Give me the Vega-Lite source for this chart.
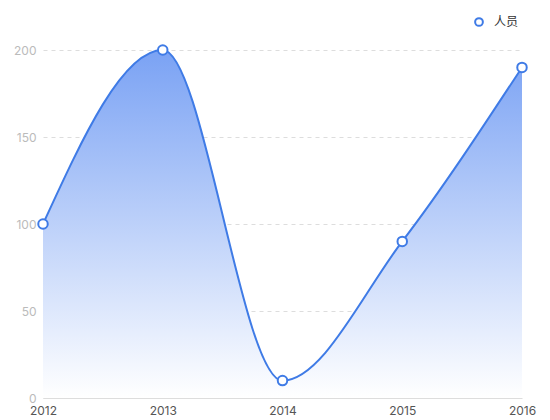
{
  "$schema": "https://vega.github.io/schema/vega-lite/v6.json",
  "autosize": "none",
  "width": 479,
  "height": 348,
  "padding": {"left": 43, "top": 50, "right": 28, "bottom": 22},
  "background": "white",
  "config": {
    "font": "Inter, Noto Sans CJK SC",
    "view": {"stroke": null}
  },
  "data": {
    "values": [
      {"year": "2012", "value": 100},
      {"year": "2013", "value": 200},
      {"year": "2014", "value": 10},
      {"year": "2015", "value": 90},
      {"year": "2016", "value": 190}
    ]
  },
  "encoding": {
    "x": {
      "field": "year",
      "type": "ordinal",
      "scale": {"type": "point", "padding": 0},
      "axis": {
        "title": null,
        "labelAngle": 0,
        "ticks": false,
        "domainColor": "#dddddd",
        "labelColor": "#555555",
        "labelFontSize": 12,
        "labelPadding": 7,
        "grid": false
      }
    },
    "y": {
      "field": "value",
      "type": "quantitative",
      "scale": {"domain": [0, 200]},
      "axis": {
        "title": null,
        "values": [0, 50, 100, 150, 200],
        "domain": false,
        "ticks": false,
        "labelColor": "#bbbbbb",
        "labelFontSize": 12,
        "labelPadding": 7,
        "gridColor": "#dddddd",
        "gridDash": [4, 4]
      }
    }
  },
  "layer": [
    {
      "mark": {
        "type": "area",
        "interpolate": "monotone",
        "color": {
          "gradient": "linear",
          "x1": 0, "y1": 0, "x2": 0, "y2": 1,
          "stops": [
            {"offset": 0, "color": "#7aa2f4"},
            {"offset": 1, "color": "#ffffff"}
          ]
        }
      }
    },
    {
      "mark": {"type": "line", "interpolate": "monotone", "color": "#3f7be6", "strokeWidth": 2}
    },
    {
      "mark": {"type": "point", "shape": "circle", "filled": false, "fill": "white", "fillOpacity": 1, "strokeWidth": 2, "size": 90, "opacity": 1},
      "encoding": {
        "stroke": {
          "datum": "人员",
          "scale": {"range": ["#3f7be6"]},
          "legend": {
            "title": null,
            "orient": "none",
            "legendX": 430,
            "legendY": -34,
            "symbolType": "circle",
            "symbolSize": 60,
            "symbolStrokeWidth": 2,
            "symbolFillColor": "white",
            "labelFontSize": 12,
            "labelColor": "#333333",
            "labelOffset": 9
          }
        }
      }
    }
  ]
}
